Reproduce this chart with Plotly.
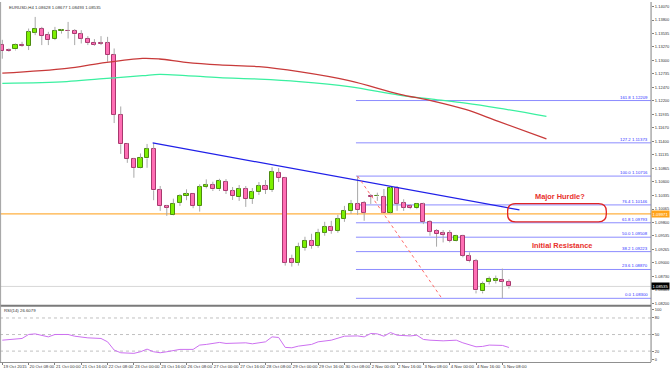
import plotly.graph_objects as go

# ---------------- data ----------------
bar_idx = list(range(78))
opens = [1.13317, 1.13207, 1.13219, 1.13317, 1.13291, 1.13553, 1.13632, 1.13502, 1.13423, 1.13580,
         1.13580, 1.13580, 1.13521, 1.13435, 1.13356, 1.13341, 1.13337, 1.13109, 1.11929, 1.11345,
         1.11056, 1.10879, 1.11064, 1.11253, 1.10435, 1.10121, 1.09950, 1.10191, 1.10323, 1.10357,
         1.10127, 1.10500, 1.10533, 1.10455, 1.10598, 1.10421, 1.10303, 1.10461, 1.10264, 1.10402,
         1.10520, 1.10441, 1.10775, 1.10677, 1.09085, 1.09006, 1.09301, 1.09438, 1.09340, 1.09596,
         1.09714, 1.09635, 1.09871, 1.10028, 1.10166, 1.10191, 1.10323, 1.10313, 1.10303, 1.09995,
         1.10486, 1.10180, 1.10127, 1.10081, 1.10160, 1.09812, 1.09635, 1.09582, 1.09582, 1.09438,
         1.09537, 1.09130, 1.09032, 1.08436, 1.08632, 1.08652, 1.08672, 1.08628]
highs = [1.13409, 1.13238, 1.13337, 1.13370, 1.13632, 1.13862, 1.13665, 1.13567, 1.13665, 1.13620,
         1.13763, 1.13620, 1.13600, 1.13482, 1.13423, 1.13482, 1.13468, 1.13238, 1.12092, 1.11365,
         1.11076, 1.11163, 1.11351, 1.11371, 1.10520, 1.10146, 1.10270, 1.10357, 1.10455, 1.10368,
         1.10553, 1.10651, 1.10604, 1.10663, 1.10657, 1.10500, 1.10539, 1.10520, 1.10480, 1.10598,
         1.10638, 1.10893, 1.10874, 1.10700, 1.09163, 1.09399, 1.09517, 1.09576, 1.09674, 1.09812,
         1.09832, 1.09950, 1.10127, 1.10244, 1.10716, 1.10225, 1.10362, 1.10388, 1.10461, 1.10500,
         1.10520, 1.10258, 1.10160, 1.10172, 1.10191, 1.09845, 1.09668, 1.09649, 1.09649, 1.09556,
         1.09556, 1.09208, 1.09079, 1.08632, 1.08731, 1.08750, 1.08888, 1.08677]
lows = [1.13036, 1.13174, 1.13199, 1.13272, 1.13207, 1.13502, 1.13305, 1.13305, 1.13404, 1.13533,
        1.13435, 1.13305, 1.13337, 1.13305, 1.13291, 1.13305, 1.12977, 1.11764, 1.11155, 1.10978,
        1.10683, 1.10868, 1.10879, 1.10239, 1.10028, 1.09930, 1.09940, 1.10127, 1.10239, 1.10081,
        1.10014, 1.10474, 1.10421, 1.10421, 1.10362, 1.10244, 1.10225, 1.10107, 1.10166, 1.10343,
        1.10362, 1.10402, 1.10598, 1.08947, 1.08927, 1.08947, 1.09242, 1.09281, 1.09301, 1.09537,
        1.09576, 1.09596, 1.09812, 1.09969, 1.09950, 1.09832, 1.10166, 1.10225, 1.09989, 1.09975,
        1.10028, 1.10028, 1.10062, 1.10062, 1.09767, 1.09537, 1.09321, 1.09405, 1.09405, 1.09425,
        1.09110, 1.09012, 1.08397, 1.08397, 1.08574, 1.08593, 1.08300, 1.08493]
closes = [1.13187, 1.13187, 1.13317, 1.13291, 1.13567, 1.13632, 1.13488, 1.13404, 1.13586, 1.13600,
          1.13577, 1.13521, 1.13435, 1.13350, 1.13317, 1.13335, 1.13109, 1.11929, 1.11345, 1.11056,
          1.10879, 1.11064, 1.11253, 1.10435, 1.10127, 1.10093, 1.10172, 1.10323, 1.10357, 1.10127,
          1.10500, 1.10533, 1.10455, 1.10618, 1.10421, 1.10323, 1.10461, 1.10264, 1.10402, 1.10520,
          1.10441, 1.10795, 1.10677, 1.09006, 1.09006, 1.09321, 1.09438, 1.09340, 1.09596, 1.09714,
          1.09635, 1.09871, 1.10028, 1.10166, 1.10048, 1.09995, 1.10303, 1.10323, 1.09995, 1.10474,
          1.10172, 1.10093, 1.10081, 1.10160, 1.09818, 1.09621, 1.09570, 1.09556, 1.09438, 1.09537,
          1.09144, 1.09032, 1.08456, 1.08593, 1.08691, 1.08691, 1.08632, 1.08535]

# moving averages (read at bar positions)
ma_x = [0, 9.8, 14.8, 21.3, 23.9, 27.9, 33, 39, 45.1, 52.7, 60.3, 65.3, 70.4, 75.4, 82.7]
ma_red = [1.12749, 1.12845, 1.12944, 1.13042, 1.13030, 1.12963, 1.12912, 1.12879, 1.12780, 1.12603,
          1.12338, 1.12204, 1.12033, 1.11797, 1.11450]
ma_green = [1.12550, 1.12584, 1.12637, 1.12700, 1.12727, 1.12702, 1.12662, 1.12633, 1.12584, 1.12485,
            1.12318, 1.12236, 1.12157, 1.12059, 1.11896]

# RSI(14)
rsi_x = [0, 3, 4, 5, 7, 8, 10, 11, 13, 15, 16, 17, 18, 20, 21, 22, 23, 24, 25, 27, 29, 30, 31, 33, 34,
         36, 37, 38, 40, 41, 42, 43, 44, 45, 47, 48, 50, 52, 54, 55, 56, 57, 58, 59, 60, 62, 63, 64,
         65, 67, 69, 70, 72, 73, 74, 76, 77]
rsi_v = [39.8, 42.9, 50.1, 51.2, 45.8, 50.1, 50.1, 47.0, 44.0, 42.9, 36.8, 21.9, 17.0, 15.9, 18.8,
         23.6, 18.8, 17.0, 18.8, 23.1, 23.1, 30.9, 32.1, 35.7, 33.9, 33.9, 35.0, 33.2, 36.8, 45.8,
         44.7, 26.7, 26.0, 29.0, 32.1, 36.8, 39.8, 47.0, 47.5, 45.8, 51.9, 51.2, 47.0, 53.6, 48.8,
         47.5, 48.8, 41.1, 39.8, 38.6, 39.8, 35.0, 27.8, 28.5, 30.9, 30.3, 26.6]
rsi_levels = [80, 50, 20]
rsi_tickvals = [95, 80, 50, 20, 5]
rsi_ticktext = ["100", "80", "50", "20", "0"]
rsi_label = "RSI(14) 26.6079"

# Fibonacci levels
fib_ratios = ["0.0", "23.6", "38.2", "50.0", "61.8", "76.4", "100.0", "127.2", "161.8"]
fib_prices = [1.08300, 1.08870, 1.09223, 1.09508, 1.09793, 1.10146, 1.10716, 1.11373, 1.12209]
fib_start = 53.75
fib_diag_x = [54, 66.8]
fib_diag_y = [1.10716, 1.08300]

# trend line
trend_x = [22.85, 78.6]
trend_y = [1.11371, 1.10048]

# horizontal levels
level_price = 1.09971
bid_price = 1.08535

# price axis labels
price_ticks = [1.14070, 1.13800, 1.13535, 1.13270, 1.13000, 1.12735, 1.12470, 1.12200, 1.11935,
               1.11670, 1.11400, 1.11135, 1.10865, 1.10600, 1.10335, 1.10065, 1.09800, 1.09535,
               1.09265, 1.09000, 1.08730, 1.08465, 1.08200]

# time axis labels
time_tickvals = list(range(0, 77, 4))
time_labels = ["19 Oct 2015", "20 Oct 08:00", "21 Oct 00:00", "21 Oct 16:00", "22 Oct 08:00",
               "23 Oct 00:00", "23 Oct 16:00", "26 Oct 08:00", "27 Oct 00:00", "27 Oct 16:00",
               "28 Oct 08:00", "29 Oct 00:00", "29 Oct 16:00", "30 Oct 08:00", "2 Nov 00:00",
               "2 Nov 16:00", "3 Nov 08:00", "4 Nov 00:00", "4 Nov 16:00", "5 Nov 08:00"]

# annotations
hurdle_box = dict(x0=76.8, x1=91.8, y0=1.09812, y1=1.10172)
hurdle_text = ("Major Hurdle?", 84.8, 1.10309)
resist_text = ("Initial Resistance", 85.1, 1.09340)

# ---------------- figure ----------------
W, H = 670, 370
XR = 653 / W
FONT = "Liberation Sans, Arial, sans-serif"


def py(p):
    return 1 - p / H


fig = go.Figure()

# wicks (upper and lower parts, so they don't cross bodies)
wx, wy = [], []
for i, o, h, l, c in zip(bar_idx, opens, highs, lows, closes):
    top, bot = max(o, c), min(o, c)
    wx += [i, i, None, i, i, None]
    wy += [top, h, None, l, bot, None]
fig.add_trace(go.Scatter(x=wx, y=wy, mode="lines", line=dict(color="#a8a8a8", width=1),
                         hoverinfo="skip", showlegend=False))

bull = [c >= o for o, c in zip(opens, closes)]
fig.add_trace(go.Bar(
    x=bar_idx,
    y=[max(abs(c - o), 0.000005) for o, c in zip(opens, closes)],
    base=[min(o, c) for o, c in zip(opens, closes)],
    width=0.62,
    marker=dict(color=["#7cf000" if b else "#ff6eb4" for b in bull],
                line=dict(color=["#4c8c10" if b else "#a8386e" for b in bull], width=1)),
    hoverinfo="skip", showlegend=False))

# moving averages
fig.add_trace(go.Scatter(x=ma_x, y=ma_green, mode="lines",
                         line=dict(color="#3af0a0", width=1.3, shape="spline"),
                         hoverinfo="skip", showlegend=False))
fig.add_trace(go.Scatter(x=ma_x, y=ma_red, mode="lines",
                         line=dict(color="#c83a3a", width=1.3, shape="spline"),
                         hoverinfo="skip", showlegend=False))

# trend line
fig.add_trace(go.Scatter(x=trend_x, y=trend_y, mode="lines", line=dict(color="#2020e8", width=1.3),
                         hoverinfo="skip", showlegend=False))
# fib diagonal
fig.add_trace(go.Scatter(x=fib_diag_x, y=fib_diag_y, mode="lines",
                         line=dict(color="#ff6a6a", width=1, dash="dot"),
                         hoverinfo="skip", showlegend=False))

# RSI
fig.add_trace(go.Scatter(x=rsi_x, y=rsi_v, mode="lines", line=dict(color="#cc70f0", width=1),
                         xaxis="x", yaxis="y2", hoverinfo="skip", showlegend=False))

shapes = []
annotations = []
xmax = 98.6
for r, p in zip(fib_ratios, fib_prices):
    shapes.append(dict(type="line", xref="x", yref="y", x0=fib_start, x1=xmax, y0=p, y1=p,
                       line=dict(color="#8c8cff", width=1), layer="below"))
    annotations.append(dict(xref="paper", yref="y", x=651 / W, y=p, xanchor="right", yanchor="bottom",
                            text=f"{r} {p:.5f}", showarrow=False, borderpad=0,
                            font=dict(family=FONT, size=4.3, color="#3030ff")))
# orange level and bid line
shapes.append(dict(type="line", xref="paper", yref="y", x0=0, x1=XR, y0=level_price, y1=level_price,
                   line=dict(color="#ffb040", width=1.2), layer="below"))
shapes.append(dict(type="line", xref="paper", yref="y", x0=0, x1=XR, y0=bid_price, y1=bid_price,
                   line=dict(color="#d8d8d8", width=1), layer="below"))
# RSI levels
for lv in rsi_levels:
    shapes.append(dict(type="line", xref="paper", yref="y2", x0=0, x1=XR, y0=lv, y1=lv,
                       line=dict(color="#c0c0c0", width=1, dash="dot"), layer="below"))
# hurdle rounded box
b = hurdle_box
rx, ry = 1.2, 0.0015
path = (f"M {b['x0']+rx},{b['y1']} L {b['x1']-rx},{b['y1']} Q {b['x1']},{b['y1']} {b['x1']},{b['y1']-ry} "
        f"L {b['x1']},{b['y0']+ry} Q {b['x1']},{b['y0']} {b['x1']-rx},{b['y0']} "
        f"L {b['x0']+rx},{b['y0']} Q {b['x0']},{b['y0']} {b['x0']},{b['y0']+ry} "
        f"L {b['x0']},{b['y1']-ry} Q {b['x0']},{b['y1']} {b['x0']+rx},{b['y1']} Z")
shapes.append(dict(type="path", xref="x", yref="y", path=path, line=dict(color="#e02424", width=1.3)))
# panel separators / borders
shapes.append(dict(type="line", xref="paper", yref="paper", x0=0, x1=XR, y0=py(305.5), y1=py(305.5),
                   line=dict(color="#7a7a7a", width=2)))
shapes.append(dict(type="line", xref="paper", yref="paper", x0=0.6 / W, x1=0.6 / W, y0=py(362), y1=1,
                   line=dict(color="#a0a0a0", width=1)))
shapes.append(dict(type="line", xref="paper", yref="paper", x0=XR, x1=XR, y0=py(362), y1=1,
                   line=dict(color="#808080", width=1)))

for txt, x, y in (hurdle_text, resist_text):
    annotations.append(dict(xref="x", yref="y", x=x, y=y, text=f"<b>{txt}</b>", showarrow=False,
                            font=dict(family=FONT, size=7.4, color="#e8302c")))

# price tags
annotations.append(dict(xref="paper", yref="y", x=XR, y=level_price, xanchor="left",
                        text=f"{level_price:.5f}", showarrow=False, bgcolor="#ffa31a", borderpad=0.6,
                        font=dict(family=FONT, size=4.2, color="white")))
annotations.append(dict(xref="paper", yref="y", x=XR, y=bid_price, xanchor="left",
                        text=f"{bid_price:.5f}", showarrow=False, bgcolor="#000000", borderpad=0.6,
                        font=dict(family=FONT, size=4.2, color="white")))
# header texts
annotations.append(dict(xref="paper", yref="paper", x=7 / W, y=py(5.5), xanchor="left", yanchor="middle",
                        text=f"EURUSD,H4 {opens[-1]:.5f} {highs[-1]:.5f} {lows[-1]:.5f} {closes[-1]:.5f}",
                        showarrow=False, font=dict(family=FONT, size=4.3, color="#333333")))
annotations.append(dict(xref="paper", yref="paper", x=2 / W, y=py(310), xanchor="left", yanchor="middle",
                        text=rsi_label, showarrow=False,
                        font=dict(family=FONT, size=4.3, color="#333333")))

fig.update_layout(
    width=W, height=H, autosize=False,
    margin=dict(l=0, r=0, t=0, b=0),
    paper_bgcolor="white", plot_bgcolor="white",
    showlegend=False, bargap=0,
    shapes=shapes, annotations=annotations,
    xaxis=dict(domain=[0, XR], range=[-0.35, xmax], anchor="y2",
               tickvals=time_tickvals, ticktext=time_labels, tickangle=0,
               ticklabelposition="outside right", ticks="outside", ticklen=2, tickcolor="#808080",
               tickfont=dict(family=FONT, size=4.3, color="#333333"),
               showgrid=False, zeroline=False, showline=True, linecolor="#909090", linewidth=1),
    yaxis=dict(domain=[py(305), py(4)], range=[1.08161, 1.14078], side="right", anchor="x",
               tickvals=price_ticks, ticktext=[f"{v:.5f}" for v in price_ticks],
               ticks="outside", ticklen=2, tickcolor="#808080",
               tickfont=dict(family=FONT, size=4.0, color="#333333"),
               showgrid=False, zeroline=False, showline=False),
    yaxis2=dict(domain=[py(362.1), py(306.6)], range=[0, 100], side="right", anchor="x",
                tickvals=rsi_tickvals, ticktext=rsi_ticktext,
                ticks="outside", ticklen=2, tickcolor="#808080",
                tickfont=dict(family=FONT, size=4.0, color="#333333"),
                showgrid=False, zeroline=False, showline=False),
)

fig.write_html("out.html", config={"displayModeBar": False},
               post_script="document.body.style.margin='0px';document.body.style.padding='0px';")
